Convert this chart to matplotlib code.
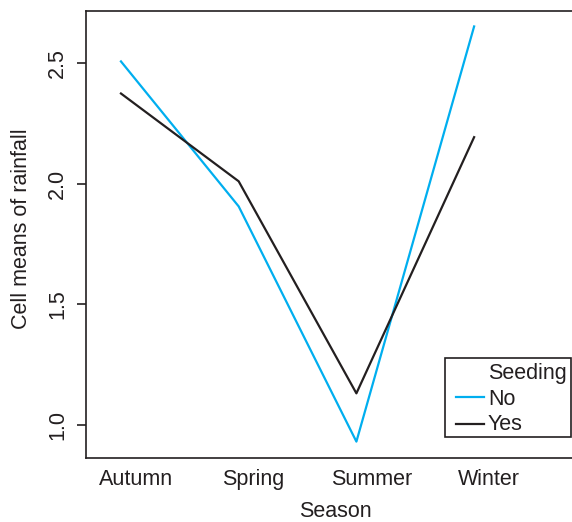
import matplotlib
matplotlib.use("Agg")
import matplotlib.pyplot as plt
import matplotlib.transforms as mtransforms
from matplotlib.lines import Line2D
from matplotlib.patches import Rectangle
import numpy as np

# cell means
seasons = ["Autumn", "Spring", "Summer", "Winter"]
rain_no = [2.507, 1.906, 0.931, 2.652]
rain_yes = [2.374, 2.010, 1.131, 2.193]
y_ticks = [1.0, 1.5, 2.0, 2.5]
groups = ["No", "Yes"]

ink = "#231f20"
cyan = "#00aeef"
W, H = 572, 522

plt.rcParams['font.family'] = ['Liberation Sans', 'DejaVu Sans']
plt.rcParams['font.size'] = 15.5
plt.rcParams['text.color'] = ink

fig = plt.figure(figsize=(W / 100, H / 100), dpi=100)
ax = fig.add_axes([86 / W, 64 / H, 489 / W, 447 / H])

x = np.arange(len(seasons))
ax.plot(x, rain_no, color=cyan, lw=1.6)
ax.plot(x, rain_yes, color=ink, lw=1.6)

ax.set_xlim(-0.297, 3.857)
ax.set_ylim(0.863, 2.716)

ax.set_yticks(y_ticks)
ax.set_yticklabels([f"{v:.1f}" for v in y_ticks], rotation=90, va="center")
ax.tick_params(axis="y", length=6.5, width=1.2, color=ink, labelcolor=ink, pad=6.5)

ax.set_xticks(x)
ax.set_xticklabels(seasons, va="baseline")
ax.tick_params(axis="x", length=0, labelcolor=ink, pad=19.5)
# the category labels sit a little right of the points in the original
shift = mtransforms.ScaledTranslation(0.15, 0, fig.dpi_scale_trans)
for lab in ax.get_xticklabels():
    lab.set_transform(lab.get_transform() + shift)

for side in ["left", "bottom", "top"]:
    ax.spines[side].set_color(ink)
    ax.spines[side].set_linewidth(1.2)
ax.spines["right"].set_visible(False)

# axis titles
fig.text(335 / W, 1 - 517 / H, "Season", ha="center", va="baseline", color=ink)
fig.text(22 / W, 1 - 229 / H, "Cell means of rainfall", rotation=90,
         ha="center", va="center", color=ink)

# legend box drawn like R's interaction.plot legend
def fx(px):
    return px / W

def fy(py):
    return 1 - py / H

fig.patches.append(Rectangle((fx(445), fy(437)), fx(571) - fx(445), fy(358) - fy(437),
                             transform=fig.transFigure, fill=False,
                             edgecolor=ink, linewidth=1.2))
fig.text(fx(488), fy(379), "Seeding", ha="left", va="baseline", color=ink)
for name, col, base, ly in zip(groups, [cyan, ink], [405, 430], [397, 424]):
    fig.lines.append(Line2D([fx(456), fx(484)], [fy(ly), fy(ly)],
                            transform=fig.transFigure, color=col, lw=1.6))
    fig.text(fx(488), fy(base), name, ha="left", va="baseline", color=ink)

fig.savefig("out.png", dpi=100)
